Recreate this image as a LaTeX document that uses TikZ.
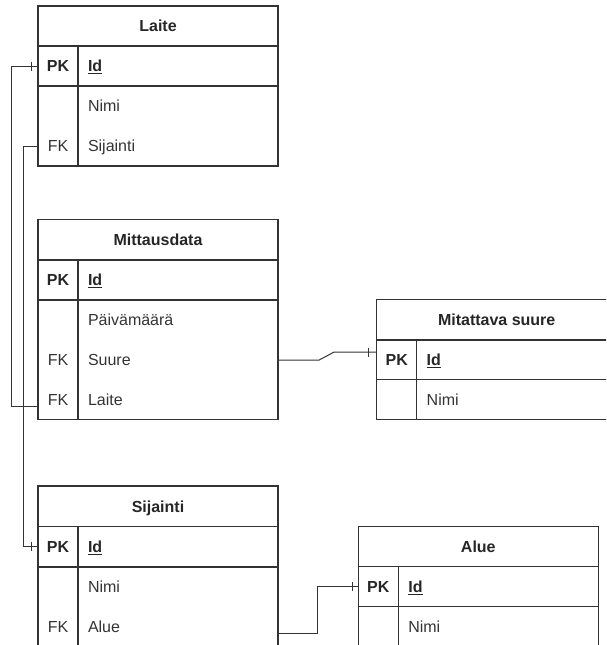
\documentclass[tikz,border=0pt]{standalone}
\usepackage{fontspec}
\setmainfont{Liberation Sans}
\begin{document}
\begin{tikzpicture}[x=1pt,y=-1pt,
  frame/.style={draw=black!80, line width=1.1pt},
  link/.style={draw=black!80, line width=1pt},
  title/.style={inner sep=0pt, text height=11.5pt, text depth=0pt,
    font=\fontsize{16}{19}\selectfont\bfseries, text=black!85},
  keycell/.style={minimum width=40pt, minimum height=40pt, inner sep=0pt,
    text height=11.5pt, text depth=0pt,
    font=\fontsize{16}{19}\selectfont, text=black!80},
  pkcell/.style={keycell, font=\fontsize{16}{19}\selectfont\bfseries, text=black!85},
  valcell/.style={minimum width=200pt, minimum height=40pt, text width=180pt,
    align=left, inner sep=0pt, text height=11.5pt, text depth=0pt,
    font=\fontsize{16}{19}\selectfont, text=black!80},
  idcell/.style={valcell, font=\fontsize{16}{19}\selectfont\bfseries, text=black!85}]

\useasboundingbox (0,0) rectangle (606,645);
\clip (0,0) rectangle (606,645);

% ---------- Laite ----------
\draw[frame] (38,6) rectangle (278,166);
\draw[frame] (38,46) -- (278,46) (38,86) -- (278,86) (78,46) -- (78,166);
\node[title] (laite) at (158,26) {Laite};
\node[pkcell] (laitePK) at (58,66) {PK};
\node[idcell] (laiteId) at (178,66) {\underline{Id}};
\node[valcell] (laiteNimi) at (178,106) {Nimi};
\node[keycell] (laiteFK) at (58,146) {FK};
\node[valcell] (laiteSij) at (178,146) {Sijainti};

% ---------- Mittausdata ----------
\draw[frame] (38,219.5) rectangle (278,419.5);
\draw[frame] (38,260) -- (278,260) (38,300) -- (278,300) (78,260) -- (78,419.5);
\node[title] (md) at (158,240) {Mittausdata};
\node[pkcell] (mdPK) at (58,280) {PK};
\node[idcell] (mdId) at (178,280) {\underline{Id}};
\node[valcell] (mdPvm) at (178,320) {Päivämäärä};
\node[keycell] (mdSuureFK) at (58,360) {FK};
\node[valcell] (mdSuure) at (178,360) {Suure};
\node[keycell] (mdLaiteFK) at (58,400) {FK};
\node[valcell] (mdLaite) at (178,400) {Laite};

% ---------- Mitattava suure ----------
\draw[frame] (376.7,299.5) rectangle (616.7,419.5);
\draw[frame] (376.7,340) -- (616.7,340) (376.7,379.5) -- (616.7,379.5)
  (416.7,340) -- (416.7,419.5);
\node[title] (ms) at (496.7,320) {Mitattava suure};
\node[pkcell] (msPK) at (396.7,360) {PK};
\node[idcell] (msId) at (516.7,360) {\underline{Id}};
\node[valcell] (msNimi) at (516.7,400) {Nimi};

% ---------- Sijainti ----------
\draw[frame] (38,486) rectangle (278,647);
\draw[frame] (38,526.7) -- (278,526.7) (38,567) -- (278,567) (78,526.7) -- (78,647);
\node[title] (sij) at (158,506.5) {Sijainti};
\node[pkcell] (sijPK) at (58,547) {PK};
\node[idcell] (sijId) at (178,547) {\underline{Id}};
\node[valcell] (sijNimi) at (178,587) {Nimi};
\node[keycell] (sijAlueFK) at (58,627) {FK};
\node[valcell] (sijAlue) at (178,627) {Alue};

% ---------- Alue ----------
\draw[frame] (358.3,526.7) rectangle (598.3,648);
\draw[frame] (358.3,566.7) -- (598.3,566.7) (358.3,606.7) -- (598.3,606.7)
  (398.3,566.7) -- (398.3,648);
\node[title] (alue) at (478.3,546.7) {Alue};
\node[pkcell] (aluePK) at (378.3,586.7) {PK};
\node[idcell] (alueId) at (498.3,586.7) {\underline{Id}};
\node[valcell] (alueNimi) at (498.3,626.7) {Nimi};

% ---------- relations ----------
% Mittausdata.Laite -> Laite.Id
\draw[link] ([yshift=-6pt]mdLaiteFK.west) -- ++(-26.5,0) |- (laitePK.west);
\draw[link] ([xshift=-6pt,yshift=4.5pt]laitePK.west) -- ++(0,9);
% Laite.Sijainti -> Sijainti.Id
\draw[link] (laiteFK.west) -- ++(-14,0) |- ([yshift=1pt]sijPK.west);
\draw[link] ([xshift=-6.5pt,yshift=5.5pt]sijPK.west) -- ++(0,9);
% Mittausdata.Suure -> Mitattava suure.Id
\draw[link] (mdSuure.east) -- ++(41,0) -- ++(15,-8) -- ([yshift=8pt]msPK.west);
\draw[link] ([xshift=-8.4pt,yshift=12.5pt]msPK.west) -- ++(0,9);
% Sijainti.Alue -> Alue.Id
\draw[link] ([yshift=-6.5pt]sijAlue.east) -- ++(39.7,0) |- (aluePK.west);
\draw[link] ([xshift=-5.6pt,yshift=4.5pt]aluePK.west) -- ++(0,9);
\end{tikzpicture}
\end{document}
